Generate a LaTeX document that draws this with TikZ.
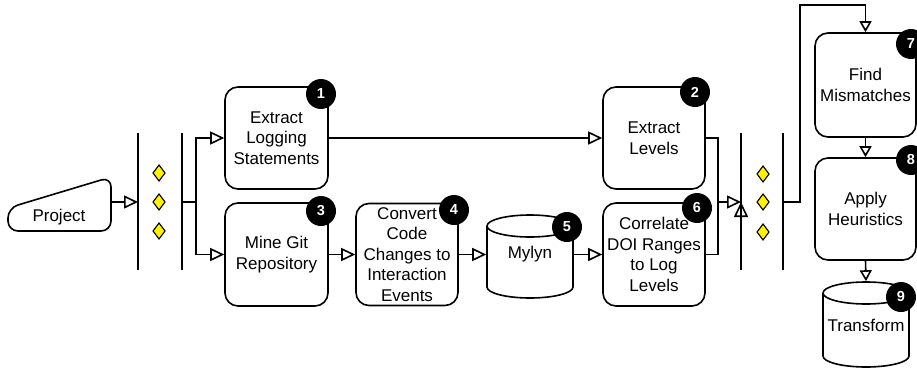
\documentclass[tikz,border=0pt]{standalone}
\usepackage{fontspec}
\setmainfont{Liberation Sans}
\usetikzlibrary{arrows.meta}
\begin{document}
\begin{tikzpicture}[x=1pt,y=-1pt,line width=1.6pt,
  box/.style={draw, fill=white, line width=1.6pt, rounded corners=13pt, align=center, inner sep=0pt,
    font=\fontsize{17}{20.5}\selectfont},
  ghost/.style={draw=none, inner sep=0pt, align=center, font=\fontsize{17}{20.5}\selectfont},
  badge/.style={circle, fill=black, text=white, minimum size=30pt, inner sep=0pt,
    font=\fontsize{14.5}{14.5}\selectfont\bfseries},
  conn/.style={line width=1.6pt, -{Triangle[open, length=14pt, width=13pt, line width=1.6pt]}},
  vconn/.style={line width=1.6pt, -{Triangle[open, length=11pt, width=12pt, line width=1.6pt]}},
  upconn/.style={line width=1.6pt, -{Triangle[open, length=15pt, width=14pt, line width=1.6pt]}},
  bar/.style={line width=1.6pt},
  gem/.style={draw, fill=yellow, line width=1.1pt}
]
\useasboundingbox (0,0) rectangle (917,369);

% Project (manual input shape)
\draw[line width=1.6pt, rounded corners=10pt, fill=white]
  (60,231) -- (8,231) -- (8,208) -- (111,177) -- (111,231) -- cycle;
\node[draw=none, minimum width=103pt, minimum height=50pt, inner sep=0pt] (project) at (59.5,202) {};
\node[ghost] (projtext) at (59,217) {Project};

% left bars
\coordinate (bar1t) at (138,133); \coordinate (bar1b) at (138,270);
\coordinate (bar2t) at (182,133); \coordinate (bar2b) at (182,270);
\draw[bar] (bar1t) -- (bar1b);
\draw[bar] (bar2t) -- (bar2b);
\coordinate (join1) at (138,202);
\coordinate (out1) at (182,202);
\coordinate (fork1) at (196,202);
\foreach \yy in {173,202,231}
  \draw[gem] (159,\yy-8) -- (165,\yy) -- (159,\yy+8) -- (153,\yy) -- cycle;

% boxes
\node[box, minimum width=103pt, minimum height=102pt] (box1) at (276.5,138) {Extract\\Logging\\Statements};
\node[box, minimum width=102pt, minimum height=102pt] (box2) at (654,138) {Extract\\Levels};
\node[box, minimum width=103pt, minimum height=103pt] (box3) at (276.5,254.5) {Mine Git\\Repository};
\node[box, minimum width=102pt, minimum height=102pt] (box4) at (407,254.5) {Convert\\Code\\Changes to\\Interaction\\Events};
\node[box, minimum width=102pt, minimum height=103pt] (box6) at (654,254.5) {Correlate\\DOI Ranges\\to Log\\Levels};
\node[box, minimum width=101pt, minimum height=104pt] (box7) at (865.5,85) {Find\\Mismatches};
\node[box, minimum width=101pt, minimum height=102pt] (box8) at (865.5,209) {Apply\\Heuristics};

% Mylyn cylinder
\draw[line width=1.6pt, fill=white] (487,226) -- (487,287)
  arc[start angle=180, end angle=0, x radius=43, y radius=11] -- (573,226);
\draw[line width=1.6pt] (530,226) ellipse[x radius=43, y radius=11];
\node[draw=none, minimum width=86pt, minimum height=83pt, inner sep=0pt] (mylyn) at (530,254.5) {};
\node[ghost] (mylyntext) at (530,254) {Mylyn};

% Transform cylinder
\draw[line width=1.6pt, fill=white] (823,293) -- (823,356)
  arc[start angle=180, end angle=0, x radius=43, y radius=11] -- (909,293);
\draw[line width=1.6pt] (866,293) ellipse[x radius=43, y radius=11];
\node[draw=none, minimum width=86pt, minimum height=85pt, inner sep=0pt] (cyl9) at (866,324.5) {};
\node[ghost] (cyl9text) at (866,325) {Transform};

% right bars
\coordinate (bar3t) at (741,133); \coordinate (bar3b) at (741,270);
\coordinate (bar4t) at (783,133); \coordinate (bar4b) at (783,270);
\draw[bar] (bar3t) -- (bar3b);
\draw[bar] (bar4t) -- (bar4b);
\coordinate (join2) at (741,202);
\coordinate (merge) at (718,202);
\coordinate (out2) at (783,202);
\coordinate (riser) at (800,5);
\coordinate (below2) at (741,230);
\foreach \yy in {174,202,232}
  \draw[gem] (763,\yy-8) -- (769,\yy) -- (763,\yy+8) -- (757,\yy) -- cycle;

% connectors
\draw[conn] (project.east) -- (join1);
\draw[conn] (out1) -- (fork1) |- (box1.west);
\draw[conn] (fork1) |- (box3.west);
\draw[conn] (box1.east) -- (box2.west);
\draw[conn] (box3.east) -- (box4.west);
\draw[conn] (box4.east) -- (mylyn.west);
\draw[conn] (mylyn.east) -- (box6.west);
\draw[conn] (box2.east) -| (merge) -- (join2);
\draw[line width=1.6pt] (box6.east) -| (merge);
\draw[upconn] (below2) -- (join2);
\draw[vconn] (out2) -| (riser) -| (box7.north);
\draw[vconn] (box7.south) -- (box8.north);
\draw[vconn] (box8.south) -- (cyl9.north);

% badges
\node[badge] (b1) at (321,94) {1};
\node[badge] (b2) at (695,92) {2};
\node[badge] (b3) at (321,211) {3};
\node[badge] (b4) at (454,210) {4};
\node[badge] (b5) at (567,227) {5};
\node[badge] (b6) at (697,208) {6};
\node[badge] (b7) at (911,44) {7};
\node[badge] (b8) at (911,160) {8};
\node[badge] (b9) at (901,297) {9};
\end{tikzpicture}
\end{document}
